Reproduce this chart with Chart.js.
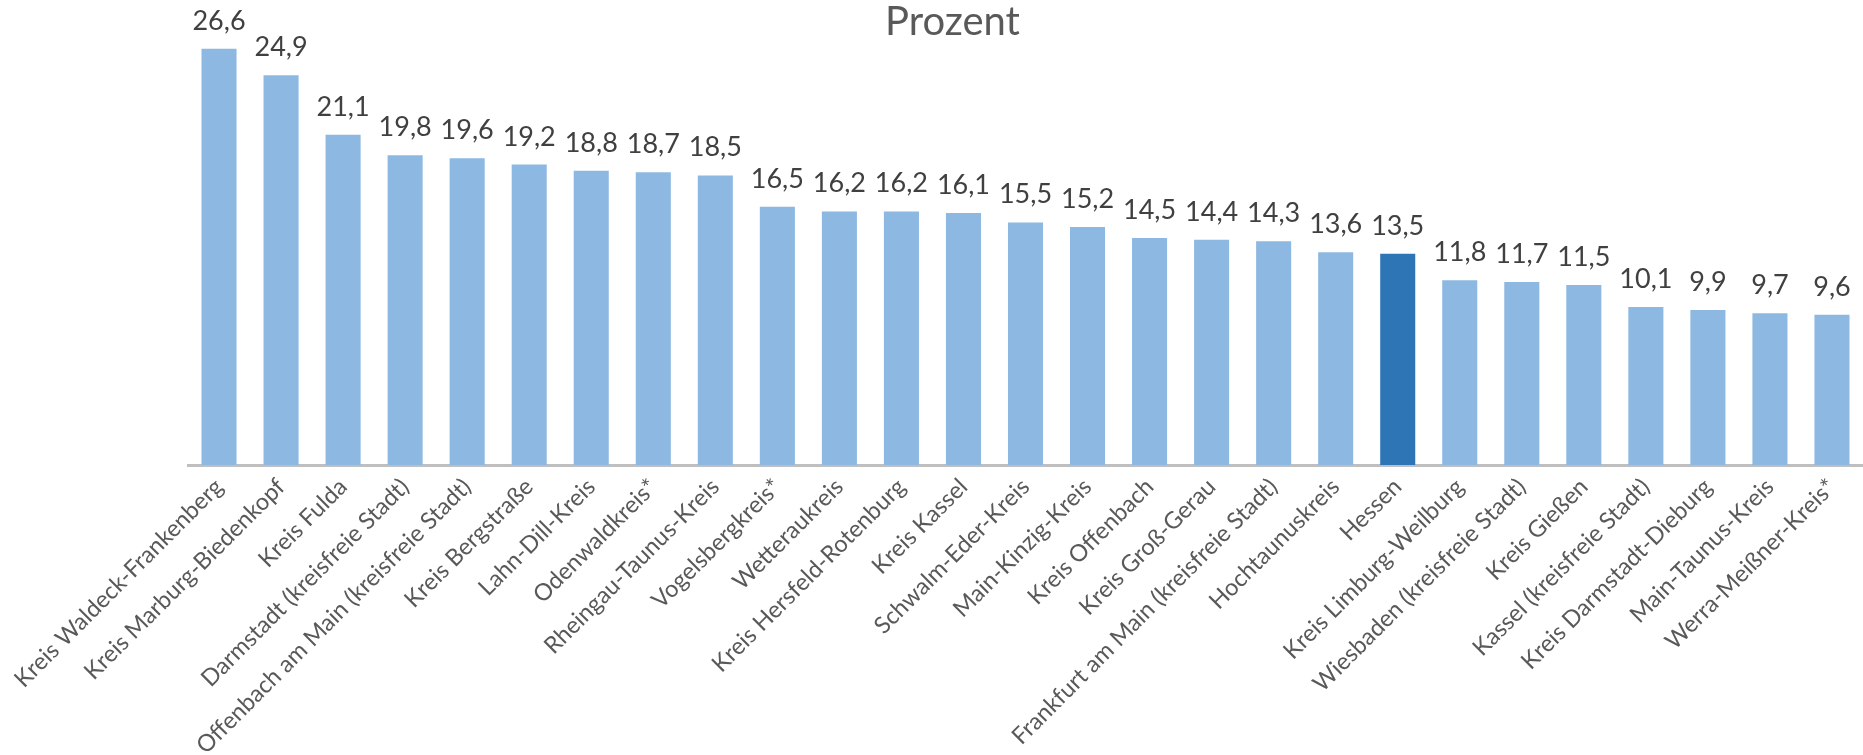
<!DOCTYPE html>
<html lang="de">
<head>
<meta charset="utf-8">
<title>Prozent</title>
<script src="https://cdn.jsdelivr.net/npm/chart.js@4.4.1/dist/chart.umd.min.js"></script>
<style>
  html, body { margin: 0; padding: 0; background: #fff; }
  #wrap { width: 1863px; height: 755px; position: relative; }
</style>
</head>
<body>
<div id="wrap"><canvas id="chart"></canvas></div>
<script>
const regions = [
  "Kreis Waldeck-Frankenberg", "Kreis Marburg-Biedenkopf", "Kreis Fulda",
  "Darmstadt (kreisfreie Stadt)", "Offenbach am Main (kreisfreie Stadt)", "Kreis Bergstraße",
  "Lahn-Dill-Kreis", "Odenwaldkreis*", "Rheingau-Taunus-Kreis", "Vogelsbergkreis*",
  "Wetteraukreis", "Kreis Hersfeld-Rotenburg", "Kreis Kassel", "Schwalm-Eder-Kreis",
  "Main-Kinzig-Kreis", "Kreis Offenbach", "Kreis Groß-Gerau", "Frankfurt am Main (kreisfreie Stadt)",
  "Hochtaunuskreis", "Hessen", "Kreis Limburg-Weilburg", "Wiesbaden (kreisfreie Stadt)",
  "Kreis Gießen", "Kassel (kreisfreie Stadt)", "Kreis Darmstadt-Dieburg", "Main-Taunus-Kreis",
  "Werra-Meißner-Kreis*"
];
const percent = [
  26.6, 24.9, 21.1, 19.8, 19.6, 19.2, 18.8, 18.7, 18.5, 16.5,
  16.2, 16.2, 16.1, 15.5, 15.2, 14.5, 14.4, 14.3, 13.6, 13.5,
  11.8, 11.7, 11.5, 10.1, 9.9, 9.7, 9.6
];
const highlight = "Hessen";

const LIGHT = '#8cb8e1';
const DARK = '#2e75b6';

// Zahlen über den Balken (deutsches Komma)
const valueLabels = {
  id: 'valueLabels',
  afterDatasetsDraw(chart) {
    const ctx = chart.ctx;
    const meta = chart.getDatasetMeta(0);
    ctx.save();
    ctx.font = '27px Lato';
    ctx.fillStyle = '#404040';
    ctx.textAlign = 'center';
    ctx.textBaseline = 'alphabetic';
    meta.data.forEach((bar, i) => {
      ctx.fillText(percent[i].toFixed(1).replace('.', ','), bar.x, bar.y - 19);
    });
    ctx.restore();
  }
};

new Chart(document.getElementById('chart'), {
  type: 'bar',
  data: {
    labels: regions,
    datasets: [{
      data: percent,
      backgroundColor: regions.map(r => r === highlight ? DARK : LIGHT),
      barPercentage: 0.565,
      categoryPercentage: 1
    }]
  },
  options: {
    responsive: true,
    maintainAspectRatio: false,
    animation: false,
    layout: { padding: { left: 42, right: 0, top: 0, bottom: 0 } },
    plugins: {
      legend: { display: false },
      tooltip: { enabled: false },
      title: {
        display: true,
        text: 'Prozent',
        color: '#595959',
        font: { family: 'Lato', size: 40, weight: 'normal', lineHeight: 1 },
        padding: { top: 2, bottom: 0.45 }
      }
    },
    scales: {
      x: {
        grid: { display: false, drawTicks: false },
        border: { display: true, color: '#bfbfbf', width: 3 },
        ticks: {
          autoSkip: false,
          minRotation: 45,
          maxRotation: 45,
          padding: 8,
          color: '#595959',
          font: { family: 'Lato', size: 23.5 }
        },
        afterFit(scale) {
          // feste Höhe für die schrägen Beschriftungen, Plotfläche beginnt bei x = 188
          scale.height = 290;
          scale.paddingLeft = 188;
          scale.paddingRight = 0;
        }
      },
      y: {
        display: false,
        min: 0,
        max: 27
      }
    }
  },
  plugins: [valueLabels]
});
</script>
</body>
</html>
